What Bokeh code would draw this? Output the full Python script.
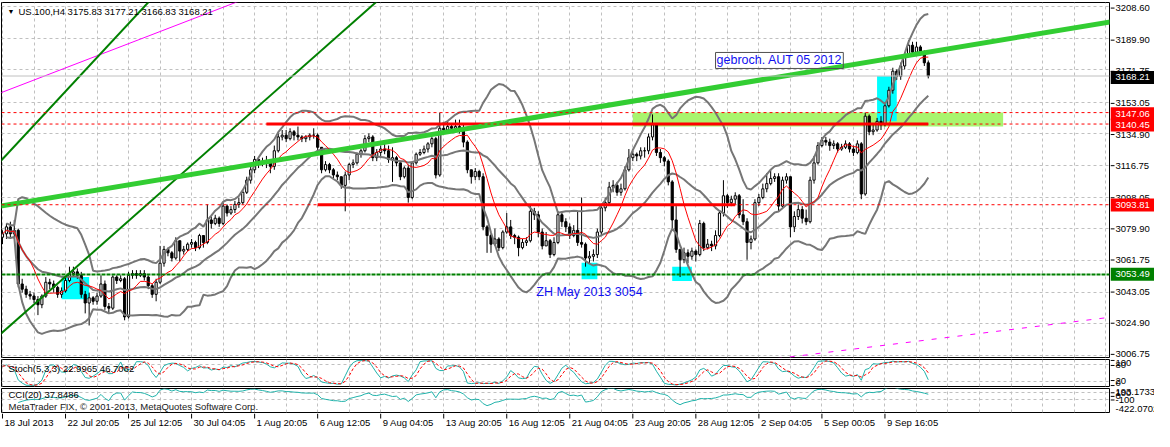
import numpy as np
import pandas as pd
from bokeh.plotting import figure
from bokeh.models import Range1d, FixedTicker, Label, Span, Spacer
from bokeh.layouts import column, row
from bokeh.core.properties import value
from bokeh.embed import file_html
from bokeh.resources import INLINE

# ------------------------------------------------------------------ data
title_text = "US.100,H4  3175.83 3177.21 3166.83 3168.21"
stoch_text = "Stoch(5,3,3) 22.9965 46.7062"
cci_text = "CCI(20) 37.8486"
copyright_text = "MetaTrader FIX, \u00a9 2001-2013, MetaQuotes Software Corp."

date_ticks = [0, 16, 32, 48, 64, 80, 96, 112, 128, 144, 160, 176, 192, 208, 224]
date_labels = ["18 Jul 2013", "22 Jul 20:05", "25 Jul 12:05", "30 Jul 04:05", "1 Aug 20:05",
               "6 Aug 12:05", "9 Aug 04:05", "13 Aug 20:05", "16 Aug 12:05", "21 Aug 04:05",
               "23 Aug 20:05", "28 Aug 12:05", "2 Sep 04:05", "5 Sep 00:05", "9 Sep 16:05"]
price_ticks = [3208.60, 3189.90, 3171.75, 3153.05, 3134.90, 3116.75, 3098.05,
               3079.90, 3061.75, 3043.05, 3024.90, 3006.75]
stoch_ticks = [100, 80, 20, 0]
cci_ticks = [100, 0, -100]
cci_max, cci_min = 193.1733, -422.0702
cci_max_label, cci_min_label = "193.1733", "-422.0702"

first_open = 3075.0
close = [3077, 3081, 3077, 3079, 3048, 3045, 3042, 3041, 3039, 3036,
         3041, 3049, 3048, 3046, 3042, 3044, 3050, 3054, 3055, 3053,
         3042, 3037, 3040, 3038, 3041, 3048, 3035, 3034, 3052, 3050,
         3051, 3029, 3053, 3054, 3053, 3054, 3052, 3047, 3042, 3049,
         3060, 3068, 3066, 3063, 3073, 3067, 3068, 3071, 3072, 3069,
         3076, 3072, 3085, 3083, 3086, 3083, 3093, 3089, 3091, 3094,
         3095, 3101, 3108, 3114, 3120, 3118, 3119, 3118, 3116, 3125,
         3133, 3134, 3132, 3136, 3134, 3133, 3132, 3133, 3134, 3134,
         3127, 3114, 3117, 3114, 3111, 3110, 3105, 3111, 3117, 3118,
         3123, 3125, 3132, 3133, 3121, 3124, 3126, 3125, 3120, 3121,
         3118, 3110, 3115, 3098, 3118, 3123, 3124, 3126, 3129, 3132,
         3111, 3138, 3137, 3139, 3138, 3139, 3137, 3130, 3114, 3110,
         3113, 3110, 3081, 3076, 3071, 3074, 3069, 3078, 3081, 3076,
         3075, 3069, 3072, 3073, 3090, 3088, 3078, 3070, 3073, 3065,
         3072, 3088, 3084, 3081, 3076, 3079, 3072, 3071, 3063, 3064,
         3065, 3078, 3092, 3095, 3104, 3105, 3101, 3103, 3114, 3121,
         3123, 3122, 3125, 3125, 3133, 3140, 3124, 3121, 3119, 3107,
         3085, 3068, 3062, 3066, 3064, 3067, 3065, 3083, 3069, 3071,
         3070, 3076, 3089, 3099, 3095, 3097, 3099, 3088, 3084, 3072,
         3074, 3095, 3098, 3103, 3106, 3109, 3110, 3093, 3108, 3110,
         3081, 3087, 3091, 3086, 3084, 3108, 3118, 3128, 3131, 3130,
         3128, 3129, 3126, 3127, 3129, 3126, 3124, 3129, 3100, 3145,
         3136, 3137, 3142, 3140, 3151, 3160, 3171, 3168, 3174, 3180,
         3186, 3182, 3185, 3182, 3175.83, 3168.21]
high = [3079, 3083, 3084, 3085, 3080, 3051, 3047, 3044, 3043, 3041,
        3042, 3052, 3051, 3050, 3047, 3046, 3052, 3058, 3058, 3057,
        3055, 3044, 3043, 3041, 3043, 3053, 3050, 3037, 3053, 3053,
        3053, 3052, 3055, 3056, 3056, 3056, 3056, 3053, 3048, 3051,
        3070, 3070, 3069, 3067, 3075, 3073, 3070, 3072, 3074, 3073,
        3077, 3076, 3094, 3087, 3088, 3087, 3095, 3094, 3093, 3096,
        3098, 3102, 3110, 3116, 3122, 3121, 3121, 3122, 3119, 3128,
        3135, 3137, 3137, 3138, 3137, 3139, 3134, 3134, 3135, 3138,
        3135, 3127, 3119, 3118, 3115, 3113, 3110, 3113, 3118, 3120,
        3124, 3126, 3134, 3135, 3134, 3126, 3128, 3131, 3128, 3127,
        3122, 3114, 3116, 3117, 3119, 3124, 3126, 3128, 3130, 3133,
        3133, 3147, 3140, 3142, 3141, 3143, 3143, 3140, 3131, 3114,
        3115, 3114, 3112, 3082, 3077, 3080, 3075, 3079, 3089, 3085,
        3077, 3076, 3074, 3075, 3093, 3092, 3090, 3080, 3078, 3074,
        3075, 3090, 3090, 3086, 3083, 3082, 3090, 3098, 3072, 3067,
        3068, 3080, 3094, 3098, 3107, 3108, 3107, 3106, 3116, 3126,
        3125, 3124, 3127, 3127, 3135, 3146, 3141, 3126, 3122, 3120,
        3108, 3093, 3068, 3069, 3068, 3069, 3068, 3085, 3084, 3074,
        3073, 3079, 3090, 3108, 3100, 3099, 3101, 3100, 3097, 3086,
        3076, 3097, 3100, 3106, 3112, 3114, 3112, 3112, 3110, 3112,
        3110, 3090, 3094, 3093, 3091, 3110, 3122, 3130, 3133, 3133,
        3132, 3131, 3130, 3129, 3131, 3130, 3128, 3131, 3130, 3147,
        3146, 3140, 3144, 3145, 3152, 3162, 3173, 3172, 3176, 3182,
        3189, 3188, 3188, 3186, 3183, 3177.21]
low = [3071, 3074, 3075, 3074, 3046, 3043, 3040, 3039, 3037, 3030,
       3034, 3040, 3045, 3043, 3040, 3040, 3043, 3049, 3052, 3051,
       3040, 3031, 3024, 3036, 3036, 3040, 3033, 3031, 3033, 3048,
       3049, 3027, 3028, 3051, 3051, 3052, 3050, 3045, 3040, 3038,
       3048, 3058, 3064, 3061, 3062, 3061, 3065, 3067, 3069, 3067,
       3068, 3069, 3071, 3080, 3082, 3081, 3082, 3087, 3088, 3089,
       3092, 3094, 3100, 3106, 3112, 3115, 3116, 3115, 3112, 3114,
       3124, 3131, 3130, 3131, 3131, 3131, 3130, 3130, 3131, 3132,
       3125, 3112, 3113, 3112, 3109, 3108, 3103, 3090, 3108, 3115,
       3117, 3121, 3124, 3130, 3119, 3119, 3122, 3123, 3118, 3107,
       3116, 3108, 3109, 3095, 3097, 3117, 3122, 3123, 3124, 3127,
       3109, 3110, 3135, 3136, 3136, 3136, 3135, 3127, 3112, 3106,
       3108, 3108, 3079, 3066, 3066, 3070, 3067, 3068, 3077, 3074,
       3071, 3064, 3068, 3070, 3072, 3085, 3075, 3068, 3070, 3063,
       3064, 3071, 3081, 3078, 3074, 3075, 3070, 3069, 3058, 3060,
       3061, 3063, 3076, 3090, 3094, 3101, 3099, 3099, 3102, 3113,
       3119, 3119, 3120, 3121, 3123, 3131, 3122, 3118, 3116, 3105,
       3080, 3066, 3052, 3060, 3060, 3062, 3061, 3064, 3067, 3068,
       3067, 3068, 3075, 3087, 3092, 3093, 3094, 3086, 3082, 3062,
       3068, 3073, 3093, 3097, 3101, 3105, 3107, 3090, 3092, 3106,
       3075, 3078, 3085, 3083, 3082, 3083, 3106, 3117, 3127, 3128,
       3125, 3126, 3124, 3125, 3126, 3124, 3122, 3123, 3097, 3099,
       3134, 3134, 3136, 3137, 3139, 3150, 3158, 3166, 3166, 3172,
       3179, 3180, 3181, 3180, 3174, 3166.83]

# horizontal levels and right-hand price tags
tag_prices = [3168.21, 3147.06, 3140.45, 3093.81, 3053.49]
tag_colors = ["black", "red", "red", "red", "#008000"]
red_dashed_levels = [3147.06, 3140.45, 3093.81]
support_level = 3053.49
bid_level = 3168.21
res_x0 = [67, 80]
res_x1 = [235, 186]
res_y = [3140.45, 3093.81]

# rectangles
cyan_left = [15, 147, 170, 222]
cyan_right = [22, 151, 175, 227]
cyan_bottom = [3039.2, 3050.8, 3049.7, 3142.1]
cyan_top = [3052.0, 3060.2, 3058.0, 3168.1]
zone_left, zone_right, zone_bottom, zone_top = [160], [254], [3139.0], [3147.06]

# trend lines (bar index, price)
lime_x, lime_y = [-1, 282], [3092.8, 3199.8]
green1_x, green1_y = [-10, 97], [2999.9, 3215.3]
green2_x, green2_y = [-1, 40], [3117.7, 3218.1]
mag1_x, mag1_y = [-1, 62], [3158.0, 3213.2]
mag2_x, mag2_y = [190, 282], [3003.0, 3029.0]

note1, note1_x, note1_y = "gebroch. AUT 05 2012", 181, 3177.2
note2, note2_x, note2_y = "ZH May 2013 3054", 135.5, 3043.1

# ------------------------------------------------------------------ derived
c = np.array(close, float)
h = np.array(high, float)
l = np.array(low, float)
o = np.concatenate([[first_open], c[:-1]])
n = len(c)
xs = np.arange(n)
bull = c >= o

sc, sh, sl = pd.Series(c), pd.Series(h), pd.Series(l)
mid = sc.rolling(20, min_periods=2).mean()
sd = sc.rolling(20, min_periods=2).std(ddof=0)
bb_up, bb_lo = mid + 2 * sd, mid - 2 * sd
ma = sc.rolling(8, min_periods=1).mean()

ll = sl.rolling(5, min_periods=1).min()
hh = sh.rolling(5, min_periods=1).max()
k = (sc - ll).rolling(3, min_periods=1).sum() / (hh - ll).rolling(3, min_periods=1).sum() * 100
d = k.rolling(3, min_periods=1).mean()

tp = (sh + sl + sc) / 3
tsma = tp.rolling(20, min_periods=5).mean()
mdev = tp.rolling(20, min_periods=5).apply(lambda a: np.mean(np.abs(a - a.mean())), raw=True)
cci = (tp - tsma) / (0.015 * mdev)

# ------------------------------------------------------------------ layout constants
FONT = "Liberation Sans"
FS = "9.5px"
TOTAL_W = 1154
CW = 1110            # chart figure width
LW = TOTAL_W - CW    # price-scale figure width
X0, X1 = -0.25, 281.0
xr = Range1d(X0, X1)
grid_bars = list(range(0, 284, 8))
GRID = "#c0c0c0"

MAIN_H, MAIN_T, MAIN_B = 358, 2, 1
ST_H, ST_T, ST_B = 29, 1, 1
CC_H, CC_T, CC_B = 26, 1, 1
DATE_H = 18
PY0, PY1 = 3005.5, 3210.7


def chart_fig(height, y0, y1, top, bottom):
    f = figure(width=CW, height=height, x_range=xr, y_range=Range1d(y0, y1),
               output_backend="svg", toolbar_location=None,
               x_axis_location=None, y_axis_location=None,
               min_border_left=1, min_border_right=1,
               min_border_top=top, min_border_bottom=bottom,
               background_fill_color="white", border_fill_color="white")
    f.outline_line_color = "black"
    f.outline_line_width = 1
    f.xgrid.ticker = FixedTicker(ticks=grid_bars)
    f.xgrid.grid_line_color = GRID
    f.xgrid.grid_line_dash = "3 3"
    f.ygrid.grid_line_color = GRID
    f.ygrid.grid_line_dash = "3 3"
    return f


def scale_fig(height, y0, y1, top, bottom):
    # same pixel mapping as the chart frame, but spanning the full figure height
    u = (y1 - y0) / (height - top - bottom)
    f = figure(width=LW, height=height, x_range=Range1d(0, LW),
               y_range=Range1d(y0 - bottom * u, y1 + top * u),
               output_backend="svg", toolbar_location=None,
               x_axis_location=None, y_axis_location=None, min_border=0,
               background_fill_color="white", border_fill_color="white")
    f.outline_line_color = None
    f.xgrid.visible = False
    f.ygrid.visible = False
    return f


def scale_text(f, ys, texts, baseline="middle", color="black", x=5):
    f.text(x=x, y=ys, text=texts, text_font=value(FONT), text_font_size=value(FS),
           text_color=color, text_baseline=baseline, text_align="left")


# ---- main price panel
p = chart_fig(MAIN_H, PY0, PY1, MAIN_T, MAIN_B)
p.ygrid.ticker = FixedTicker(ticks=price_ticks)

p.quad(left=zone_left, right=zone_right, bottom=zone_bottom, top=zone_top,
       fill_color="#a8f56e", line_color=None)
p.quad(left=cyan_left, right=cyan_right, bottom=cyan_bottom, top=cyan_top,
       fill_color="#00ffff", line_color=None)

p.segment(x0=xs, y0=l, x1=xs, y1=h, line_color="black", line_width=1)
p.vbar(x=xs, width=0.55, top=np.maximum(o, c), bottom=np.minimum(o, c),
       fill_color=np.where(bull, "white", "black").tolist(), line_color="black", line_width=1)

for band in (bb_up, mid, bb_lo):
    p.line(xs, band.values, line_color="#767676", line_width=2)
p.line(xs, ma.values, line_color="red", line_width=1)

for lvl in red_dashed_levels:
    p.add_layout(Span(location=lvl, dimension="width", line_color="red",
                      line_dash="3 3", line_width=1))
p.add_layout(Span(location=bid_level, dimension="width", line_color="#c0c0c0", line_width=1))
p.add_layout(Span(location=support_level, dimension="width", line_color="#008000",
                  line_dash="4 1", line_width=2))
p.segment(x0=res_x0, y0=res_y, x1=res_x1, y1=res_y, line_color="red", line_width=3)

p.line(mag1_x, mag1_y, line_color="#ff00ff", line_width=1)
p.line(mag2_x, mag2_y, line_color="#ff00ff", line_width=1, line_dash="5 8")
p.line(green1_x, green1_y, line_color="#008000", line_width=2)
p.line(green2_x, green2_y, line_color="#008000", line_width=2)
p.line(lime_x, lime_y, line_color="#32cd32", line_width=5)

p.add_layout(Label(x=X0, y=3205.6, x_offset=6, text="\u25bc", text_font=FONT,
                   text_font_size="7px", text_color="black", text_baseline="middle"))
p.add_layout(Label(x=X0, y=3205.3, x_offset=17, text=title_text, text_font=FONT,
                   text_font_size=FS, text_color="black", text_baseline="middle"))
p.add_layout(Label(x=note1_x, y=note1_y, text=note1, text_font=FONT, text_font_size="12.5px",
                   text_color="#1010f0", text_baseline="middle",
                   border_line_color="#505050", border_line_width=1, padding=1))
p.add_layout(Label(x=note2_x, y=note2_y, text=note2, text_font=FONT, text_font_size="12.5px",
                   text_color="#1010f0", text_baseline="middle"))

ps_main = scale_fig(MAIN_H, PY0, PY1, MAIN_T, MAIN_B)
ps_main.segment(x0=0, y0=price_ticks, x1=4, y1=price_ticks, line_color="black", line_width=1)
scale_text(ps_main, price_ticks, [f"{v:.2f}" for v in price_ticks])
ps_main.rect(x=LW / 2, y=tag_prices, width=LW, height=13, height_units="screen",
             fill_color=tag_colors, line_color=None)
scale_text(ps_main, tag_prices, [f"{v:.2f}" for v in tag_prices], color="white")

# ---- stochastic panel
pst = chart_fig(ST_H, 0, 100, ST_T, ST_B)
pst.ygrid.ticker = FixedTicker(ticks=[20, 80])
pst.line(xs, k.values, line_color="#20b2aa", line_width=1)
pst.line(xs, d.values, line_color="red", line_width=1, line_dash="3 2")
pst.add_layout(Label(x=X0, y=67, x_offset=7, text=stoch_text, text_font=FONT,
                     text_font_size=FS, text_color="black", text_baseline="middle"))

ps_st = scale_fig(ST_H, 0, 100, ST_T, ST_B)
ps_st.segment(x0=0, y0=stoch_ticks, x1=4, y1=stoch_ticks, line_color="black", line_width=1)
scale_text(ps_st, stoch_ticks[:1], ["100"], baseline="top")
scale_text(ps_st, stoch_ticks[1:3], ["80", "20"])
scale_text(ps_st, stoch_ticks[3:], ["0"], baseline="bottom")

# ---- CCI panel
pcc = chart_fig(CC_H, cci_min, cci_max, CC_T, CC_B)
pcc.ygrid.ticker = FixedTicker(ticks=[100, -100])
pcc.line(xs, cci.values, line_color="#20b2aa", line_width=1)
pcc.add_layout(Label(x=X0, y=30, x_offset=7, text=cci_text, text_font=FONT,
                     text_font_size=FS, text_color="black", text_baseline="middle"))
pcc.add_layout(Label(x=X0, y=-280, x_offset=7, text=copyright_text, text_font=FONT,
                     text_font_size=FS, text_color="#202020", text_baseline="middle"))

ps_cc = scale_fig(CC_H, cci_min, cci_max, CC_T, CC_B)
ps_cc.segment(x0=0, y0=cci_ticks, x1=4, y1=cci_ticks, line_color="black", line_width=1)
scale_text(ps_cc, cci_ticks, ["100", "0", "-100"])
scale_text(ps_cc, [cci_max], [cci_max_label], baseline="top")
scale_text(ps_cc, [cci_min], [cci_min_label], baseline="bottom")

# ---- time scale (labels start at their tick, as in MetaTrader)
pdt = figure(width=CW, height=DATE_H, x_range=xr, y_range=Range1d(0, DATE_H),
             output_backend="svg", toolbar_location=None,
             x_axis_location=None, y_axis_location=None,
             min_border_left=1, min_border_right=1, min_border_top=0, min_border_bottom=0,
             background_fill_color="white", border_fill_color="white")
pdt.outline_line_color = None
pdt.xgrid.visible = False
pdt.ygrid.visible = False
pdt.segment(x0=date_ticks, y0=DATE_H, x1=date_ticks, y1=DATE_H - 5,
            line_color="black", line_width=1)
pdt.text(x=date_ticks, y=DATE_H - 3, text=date_labels, x_offset=2,
         text_font=value(FONT), text_font_size=value(FS), text_color="black",
         text_baseline="top", text_align="left")

layout = column(row(p, ps_main, spacing=0), row(pst, ps_st, spacing=0),
                row(pcc, ps_cc, spacing=0), row(pdt, Spacer(width=LW, height=DATE_H), spacing=0),
                spacing=0)
open("out.html", "w").write(file_html(layout, INLINE))
